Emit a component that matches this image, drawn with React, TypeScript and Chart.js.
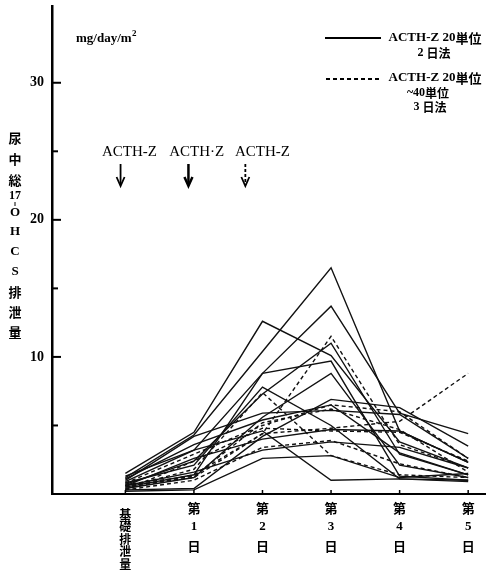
import React, { useEffect, useRef } from "react";
import { Chart, registerables } from "chart.js";

Chart.register(...registerables);

// ---- data ----
const categories = [["基", "礎", "排", "泄", "量"], ["第", "1", "日"], ["第", "2", "日"], ["第", "3", "日"], ["第", "4", "日"], ["第", "5", "日"]];
const yTickLabels = [10, 20, 30];

// 2日法 (solid)
const s1 = [1.2, 4.3, 10.4, 16.5, 4.6, 2.3];
const s2 = [0.9, 3.2, 8.8, 13.7, 5.9, 4.4];
const s3 = [1.5, 4.5, 12.6, 10.1, 3.8, 1.9];
const s4 = [0.7, 2.4, 7.3, 11.0, 2.9, 1.4];
const s5 = [0.5, 1.4, 8.8, 9.7, 1.3, 1.0];
const s6 = [0.4, 1.2, 5.6, 8.8, 2.1, 1.2];
const s7 = [0.8, 2.1, 7.8, 5.0, 1.1, 1.0];
const s8 = [0.3, 0.4, 4.2, 6.9, 6.3, 3.5];
const s9 = [1.0, 4.2, 5.9, 6.1, 5.8, 2.6];
const s10 = [1.3, 3.2, 4.6, 1.0, 1.1, 0.9];
const s11 = [0.6, 1.6, 3.2, 3.8, 3.4, 1.9];
const s12 = [0.2, 0.3, 2.6, 2.8, 1.2, 1.5];
const s13 = [0.6, 2.6, 4.0, 4.7, 4.6, 2.3];
const s14 = [1.1, 3.6, 5.4, 6.5, 3.0, 1.4];

// 3日法 (dashed)
const d1 = [0.6, 1.2, 4.4, 11.5, 3.6, 1.9];
const d2 = [0.5, 1.8, 7.4, 2.8, 1.4, 1.2];
const d3 = [0.8, 2.9, 5.0, 6.5, 6.0, 2.6];
const d4 = [0.4, 1.4, 4.4, 4.8, 5.3, 8.8];
const d5 = [0.3, 2.4, 4.8, 4.6, 4.5, 2.4];
const d6 = [0.3, 1.0, 3.4, 3.9, 2.2, 1.2];
const d7 = [0.7, 1.3, 5.2, 6.2, 4.7, 1.6];

const solidSeries = [s1, s2, s3, s4, s5, s6, s7, s8, s9, s10, s11, s12, s13, s14];
const dashedSeries = [d1, d2, d3, d4, d5, d6, d7];

const annotationLabels = ["ACTH-Z", "ACTH·Z", "ACTH-Z"];
const annotationDays = [0.06, 1.04, 2.0];
const arrowDays = [-0.07, 0.92, 1.75];

const SERIF = "'Liberation Serif', 'Noto Sans CJK JP', serif";
const JP = "'Noto Sans CJK JP', 'Liberation Serif', serif";

const toPoints = (arr: number[]) => arr.map((v, i) => ({ x: i, y: v }));

const decorPlugin = {
  id: "decor",
  afterDraw(chart: any) {
    const ctx = chart.ctx;
    const xs = chart.scales.x;
    const ys = chart.scales.y;
    const left = chart.chartArea.left;
    const bottom = chart.chartArea.bottom;
    ctx.save();
    ctx.strokeStyle = "#000";
    ctx.fillStyle = "#000";

    // y ticks (inward)
    for (let v = 5; v <= 30; v += 5) {
      const py = ys.getPixelForValue(v);
      const len = v % 10 === 0 ? 9 : 6;
      ctx.lineWidth = 2;
      ctx.beginPath();
      ctx.moveTo(left, py);
      ctx.lineTo(left + len, py);
      ctx.stroke();
    }
    // x ticks (upward)
    for (let i = 0; i < categories.length; i++) {
      const px = xs.getPixelForValue(i);
      ctx.lineWidth = 1.5;
      ctx.beginPath();
      ctx.moveTo(px, bottom);
      ctx.lineTo(px, bottom - 4);
      ctx.stroke();
    }

    // x labels (vertical stacked)
    ctx.textAlign = "center";
    ctx.textBaseline = "middle";
    categories.forEach((chars, i) => {
      const px = xs.getPixelForValue(i);
      if (i === 0) {
        ctx.font = `bold 12px ${JP}`;
        chars.forEach((c, k) => ctx.fillText(c, px, 514 + k * 12.5));
      } else {
        chars.forEach((c, k) => {
          ctx.font = k === 1 ? `bold 13px ${SERIF}` : `bold 13px ${JP}`;
          ctx.fillText(c, px, 508 + k * 19);
        });
      }
    });

    // y title
    const titleX = 15;
    const title: [string, number, string][] = [
      ["尿", 138, JP], ["中", 159, JP], ["総", 180, JP], ["17", 196, SERIF],
      ["O", 213, SERIF], ["H", 232, SERIF], ["C", 252, SERIF], ["S", 272, SERIF],
      ["排", 292, JP], ["泄", 312, JP], ["量", 332, JP],
    ];
    title.forEach(([t, py, f]) => {
      ctx.font = f === JP ? `bold 13px ${f}` : t === "17" ? `bold 12px ${f}` : `bold 13px ${f}`;
      ctx.fillText(t, titleX, py);
    });
    ctx.lineWidth = 1;
    ctx.beginPath();
    ctx.moveTo(titleX, 202);
    ctx.lineTo(titleX, 206);
    ctx.stroke();

    // unit
    ctx.textAlign = "left";
    ctx.font = `bold 13px ${SERIF}`;
    ctx.fillText("mg/day/m", 76, 39);
    const w = ctx.measureText("mg/day/m").width;
    ctx.font = `bold 9px ${SERIF}`;
    ctx.fillText("2", 76 + w + 0.5, 34);

    // legend
    ctx.lineWidth = 2;
    ctx.setLineDash([]);
    ctx.beginPath();
    ctx.moveTo(325, 38);
    ctx.lineTo(381, 38);
    ctx.stroke();
    ctx.setLineDash([4, 3]);
    ctx.beginPath();
    ctx.moveTo(326, 79);
    ctx.lineTo(381, 79);
    ctx.stroke();
    ctx.setLineDash([]);

    const drawMixed = (parts: [string, string][], cx: number, py: number, size: number) => {
      let total = 0;
      parts.forEach(([t, f]) => {
        ctx.font = `bold ${size}px ${f}`;
        total += ctx.measureText(t).width;
      });
      let x = cx - total / 2;
      ctx.textAlign = "left";
      parts.forEach(([t, f]) => {
        ctx.font = `bold ${size}px ${f}`;
        ctx.fillText(t, x, py);
        x += ctx.measureText(t).width;
      });
    };
    drawMixed([["ACTH-Z 20", SERIF], ["単位", JP]], 435, 38, 13);
    drawMixed([["2 ", SERIF], ["日法", JP]], 434, 53, 12);
    drawMixed([["ACTH-Z 20", SERIF], ["単位", JP]], 435, 78, 13);
    drawMixed([["~40", SERIF], ["単位", JP]], 428, 93, 12);
    drawMixed([["3 ", SERIF], ["日法", JP]], 430, 107, 12);

    // annotations
    ctx.textAlign = "center";
    ctx.font = `15px ${SERIF}`;
    annotationLabels.forEach((t, i) => {
      ctx.fillText(t, xs.getPixelForValue(annotationDays[i]), 152);
    });
    arrowDays.forEach((d, i) => {
      const px = xs.getPixelForValue(d);
      ctx.lineWidth = i === 1 ? 2.5 : 1.8;
      if (i === 2) ctx.setLineDash([3, 2]);
      ctx.beginPath();
      ctx.moveTo(px, 164);
      ctx.lineTo(px, 185);
      ctx.stroke();
      ctx.setLineDash([]);
      ctx.beginPath();
      ctx.moveTo(px - 4, 177);
      ctx.lineTo(px, 186);
      ctx.lineTo(px + 4, 177);
      ctx.stroke();
    });

    ctx.restore();
  },
};

export default function App() {
  const ref = useRef<HTMLCanvasElement | null>(null);
  useEffect(() => {
    if (!ref.current) return;
    const datasets: any[] = [];
    solidSeries.forEach((s, i) => {
      datasets.push({
        label: `2日法 ${i + 1}`,
        data: toPoints(s),
        borderColor: "#111",
        borderWidth: 1.4,
        pointRadius: 0,
        fill: false,
        tension: 0,
      });
    });
    dashedSeries.forEach((s, i) => {
      datasets.push({
        label: `3日法 ${i + 1}`,
        data: toPoints(s),
        borderColor: "#111",
        borderWidth: 1.4,
        borderDash: [4, 3],
        pointRadius: 0,
        fill: false,
        tension: 0,
      });
    });
    const chart = new Chart(ref.current, {
      type: "line",
      data: { datasets },
      options: {
        animation: false,
        responsive: false,
        layout: { padding: { top: 6, left: 0, right: 0, bottom: 0 } },
        plugins: { legend: { display: false }, tooltip: { enabled: false } },
        scales: {
          x: {
            type: "linear",
            min: -1.07,
            max: 5.26,
            grid: { display: false },
            border: { display: true, color: "#000", width: 2 },
            ticks: { display: false },
            afterFit: (s: any) => {
              s.height = 80;
              s.paddingLeft = 0;
              s.paddingRight = 0;
            },
          },
          y: {
            min: 0,
            max: 35.6,
            grid: { display: false },
            border: { display: true, color: "#000", width: 2.5 },
            ticks: {
              stepSize: 5,
              color: "#000",
              padding: 0,
              font: { family: SERIF, size: 14, weight: "bold" },
              callback: (v: any) => (yTickLabels.includes(Number(v)) ? String(v) : ""),
            },
            afterFit: (s: any) => {
              s.width = 52;
              s.paddingTop = 0;
              s.paddingBottom = 0;
            },
          },
        },
      },
      plugins: [decorPlugin],
    });
    return () => chart.destroy();
  }, []);
  return (
    <div style={{ position: "fixed", left: 0, top: 0, width: 486, height: 574, background: "#fff" }}>
      <canvas ref={ref} width={486} height={574} style={{ width: 486, height: 574, display: "block" }} />
    </div>
  );
}
